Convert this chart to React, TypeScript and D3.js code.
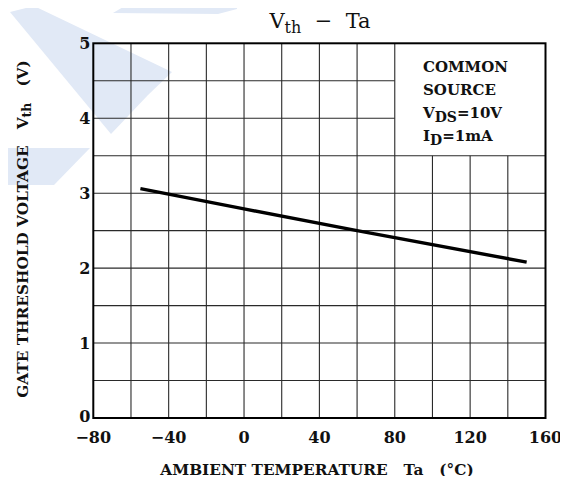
import React from "react";
import * as d3 from "d3";

const W = 568;
const H = 484;

// data
const temps = [-55, 0, 60, 150];
const vth = [3.06, 2.79, 2.5, 2.08];
const xTicks = [-80, -40, 0, 40, 80, 120, 160];
const yTicks = [0, 1, 2, 3, 4, 5];
const xGrid = d3.range(-80, 161, 20);
const yGrid = d3.range(0, 5.01, 0.5);
const legendLines = ["COMMON", "SOURCE"];

const margin = { left: 93.3, right: W - 545.5, top: 43.3, bottom: H - 418 };

const FONT = "'DejaVu Serif', 'Liberation Serif', serif";

export default function App() {
  const x = d3.scaleLinear().domain([-80, 160]).range([margin.left, W - margin.right]);
  const y = d3.scaleLinear().domain([0, 5]).range([H - margin.bottom, margin.top]);

  const pts = temps.map((t, i) => [t, vth[i]] as [number, number]);
  const line = d3
    .line<[number, number]>()
    .x((d) => x(d[0]))
    .y((d) => y(d[1]));

  // legend box region: x 80..160, y 3.5..5
  const boxX0 = 80;
  const boxY0 = 3.5;

  const wm = "#e1e9f6";

  return (
    <div style={{ margin: -8 }}>
      <svg width={W} height={H} style={{ display: "block", background: "#fff" }}>
        {/* faint watermark */}
        <g fill={wm}>
          <polygon points="10,12 34,6 172,72 148,95 111,134" />
          <polygon points="113,13 135,0 237,0 237,9 218,14" />
          <polygon points="0,148 90,148 54,185 0,185" />
          <polygon points="0,0 12,0 0,10" />
        </g>

        {/* grid */}
        <g stroke="#2a2a2a" strokeWidth={1.1} fill="none">
          {xGrid.slice(1, -1).map((v) => (
            <line
              key={"gx" + v}
              x1={x(v)}
              x2={x(v)}
              y1={y(0)}
              y2={v > boxX0 ? y(boxY0) : y(5)}
            />
          ))}
          {yGrid.slice(1, -1).map((v) => (
            <line
              key={"gy" + v}
              x1={x(-80)}
              x2={v > boxY0 ? x(boxX0) : x(160)}
              y1={y(v)}
              y2={y(v)}
            />
          ))}
        </g>

        {/* frame */}
        <rect
          x={x(-80)}
          y={y(5)}
          width={x(160) - x(-80)}
          height={y(0) - y(5)}
          fill="none"
          stroke="#000"
          strokeWidth={2}
        />

        {/* data line */}
        <path d={line(pts) || ""} fill="none" stroke="#000" strokeWidth={3.4} />

        {/* y ticks labels */}
        <g fontFamily={FONT} fontSize={16} fill="#111" textAnchor="end" fontWeight="bold">
          {yTicks.map((v) => (
            <text key={"yt" + v} x={x(-80) - 3} y={v === 0 ? y(v) - 2 : y(v)} dy="0.36em">
              {v}
            </text>
          ))}
        </g>

        {/* x tick labels */}
        <g fontFamily={FONT} fontSize={16} fill="#111" textAnchor="middle" fontWeight="bold">
          {xTicks.map((v) => (
            <text key={"xt" + v} x={x(v)} y={443} style={{ whiteSpace: "pre" }}>
              {v < 0 ? "\u2212" + Math.abs(v) : v}
            </text>
          ))}
        </g>

        {/* title */}
        <text
          x={320}
          y={28}
          textAnchor="middle"
          fontFamily={FONT}
          fontSize={21}
          fill="#111"
          style={{ whiteSpace: "pre" }}
        >
          V<tspan fontSize={16} dy={5}>th</tspan>
          <tspan dy={-5}>{"  \u2212  Ta"}</tspan>
        </text>

        {/* legend */}
        <g fontFamily={FONT} fontSize={15} fill="#111" fontWeight="bold">
          {legendLines.map((s, i) => (
            <text key={s} x={423} y={72 + i * 23}>
              {s}
            </text>
          ))}
          <text x={423} y={118}>
            V<tspan fontSize={14} dy={4}>DS</tspan>
            <tspan dy={-4}>=10V</tspan>
          </text>
          <text x={423} y={141}>
            I<tspan fontSize={14} dy={4}>D</tspan>
            <tspan dy={-4}>=1mA</tspan>
          </text>
        </g>

        {/* x axis title */}
        <text
          x={317}
          y={475}
          textAnchor="middle"
          fontFamily={FONT}
          fontSize={15.3}
          fontWeight="bold"
          fill="#111"
          style={{ whiteSpace: "pre" }}
        >
          {"AMBIENT TEMPERATURE   Ta   (\u00B0C)"}
        </text>

        {/* y axis title */}
        <text
          transform={`translate(28,229) rotate(-90)`}
          textAnchor="middle"
          fontFamily={FONT}
          fontSize={15.3}
          fontWeight="bold"
          fill="#111"
          style={{ whiteSpace: "pre" }}
        >
          {"GATE THRESHOLD VOLTAGE   V"}
          <tspan fontSize={12.5} dy={3}>th</tspan>
          <tspan dy={-3}>{"   (V)"}</tspan>
        </text>
      </svg>
    </div>
  );
}
